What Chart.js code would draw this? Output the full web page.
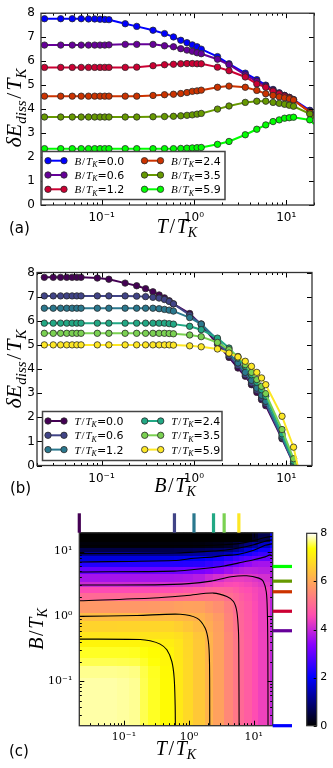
<!DOCTYPE html>
<html>
<head>
<meta charset="utf-8">
<script src="https://cdn.jsdelivr.net/npm/chart.js@4.4.1/dist/chart.umd.min.js"></script>
<style>
  html, body { margin: 0; padding: 0; background: #fff; }
  #page { position: relative; width: 333px; height: 768px; overflow: hidden; }
  canvas { position: absolute; left: 0; }
</style>
</head>
<body>
<div id="page">
  <canvas id="chartA" width="333" height="255" style="top:0px"></canvas>
  <canvas id="chartB" width="333" height="253" style="top:255px"></canvas>
  <canvas id="chartC" width="333" height="268" style="top:500px"></canvas>
  <canvas id="chartBar" width="333" height="268" style="top:500px"></canvas>
</div>
<script>
// ---- panel (a): dE/T_K against T/T_K, one curve per field B/T_K
const tGrid = [0.024, 0.036, 0.048, 0.06, 0.072, 0.084, 0.096, 0.108, 0.12, 0.18, 0.24, 0.36, 0.48, 0.6, 0.72, 0.84, 0.96, 1.08, 1.2, 1.8, 2.4, 3.6, 4.8, 6.0, 7.2, 8.4, 9.6, 10.8, 12, 18, 20];
const fieldLevels = [0.0, 0.6, 1.2, 2.4, 3.5, 5.9];
const eField00 = [7.77, 7.77, 7.77, 7.77, 7.76, 7.76, 7.75, 7.74, 7.73, 7.56, 7.45, 7.29, 7.15, 7.01, 6.87, 6.77, 6.68, 6.6, 6.5, 6.19, 5.89, 5.5, 5.23, 5.0, 4.82, 4.68, 4.57, 4.49, 4.4, 3.95, 3.83];
const eField06 = [6.67, 6.67, 6.67, 6.67, 6.67, 6.67, 6.67, 6.67, 6.68, 6.7, 6.7, 6.7, 6.64, 6.6, 6.52, 6.46, 6.41, 6.35, 6.31, 6.08, 5.85, 5.43, 5.16, 4.96, 4.79, 4.65, 4.57, 4.49, 4.38, 3.89, 3.78];
const eField12 = [5.74, 5.74, 5.74, 5.74, 5.74, 5.74, 5.74, 5.74, 5.74, 5.74, 5.75, 5.81, 5.85, 5.87, 5.89, 5.9, 5.9, 5.89, 5.89, 5.75, 5.6, 5.34, 5.05, 4.91, 4.75, 4.64, 4.54, 4.47, 4.38, 3.89, 3.74];
const eField24 = [4.54, 4.54, 4.54, 4.54, 4.54, 4.54, 4.54, 4.54, 4.54, 4.54, 4.54, 4.57, 4.6, 4.62, 4.65, 4.69, 4.74, 4.76, 4.79, 4.91, 4.96, 4.91, 4.78, 4.64, 4.57, 4.51, 4.47, 4.43, 4.38, 3.87, 3.7];
const eField35 = [3.67, 3.67, 3.67, 3.67, 3.67, 3.67, 3.67, 3.67, 3.67, 3.67, 3.67, 3.68, 3.69, 3.7, 3.72, 3.74, 3.76, 3.79, 3.82, 4.0, 4.13, 4.28, 4.33, 4.33, 4.28, 4.24, 4.2, 4.16, 4.12, 3.8, 3.62];
const eField59 = [2.35, 2.35, 2.35, 2.35, 2.35, 2.35, 2.35, 2.35, 2.35, 2.35, 2.35, 2.35, 2.35, 2.35, 2.36, 2.37, 2.38, 2.39, 2.4, 2.53, 2.65, 2.93, 3.16, 3.34, 3.48, 3.55, 3.62, 3.64, 3.66, 3.55, 3.38];

// ---- panel (b): dE/T_K against B/T_K, one curve per temperature T/T_K
const bGrid = [0.024, 0.03, 0.036, 0.042, 0.048, 0.054, 0.06, 0.09, 0.12, 0.18, 0.24, 0.3, 0.36, 0.42, 0.48, 0.54, 0.6, 0.9, 1.2, 1.8, 2.4, 3.0, 3.6, 4.2, 4.8, 5.4, 6.0, 9.0, 12.0, 18.0];
const tempLevels = [0.0, 0.6, 1.2, 2.4, 3.5, 5.9];
const eTemp00 = [7.8, 7.8, 7.8, 7.8, 7.8, 7.8, 7.8, 7.77, 7.72, 7.56, 7.45, 7.33, 7.2, 7.07, 6.95, 6.83, 6.7, 6.3, 5.83, 5.03, 4.48, 4.04, 3.7, 3.35, 3.03, 2.73, 2.48, 1.11, 0.07, -2.4];
const eTemp06 = [7.03, 7.03, 7.03, 7.03, 7.03, 7.03, 7.03, 7.03, 7.03, 7.03, 7.02, 7.0, 6.97, 6.94, 6.88, 6.8, 6.7, 6.24, 5.87, 5.14, 4.55, 4.14, 3.76, 3.42, 3.12, 2.8, 2.57, 1.15, 0.09, -2.4];
const eTemp12 = [6.52, 6.52, 6.52, 6.52, 6.52, 6.52, 6.52, 6.52, 6.52, 6.52, 6.52, 6.52, 6.52, 6.5, 6.47, 6.44, 6.4, 6.13, 5.86, 5.21, 4.66, 4.25, 3.86, 3.53, 3.21, 2.91, 2.66, 1.22, 0.1, -2.3];
const eTemp24 = [5.9, 5.9, 5.9, 5.9, 5.9, 5.9, 5.9, 5.9, 5.9, 5.9, 5.9, 5.9, 5.9, 5.9, 5.9, 5.88, 5.86, 5.77, 5.63, 5.28, 4.87, 4.45, 4.11, 3.76, 3.45, 3.14, 2.87, 1.31, 0.18, -2.2];
const eTemp35 = [5.48, 5.48, 5.48, 5.48, 5.48, 5.48, 5.48, 5.48, 5.48, 5.48, 5.48, 5.48, 5.48, 5.48, 5.48, 5.47, 5.46, 5.41, 5.34, 5.1, 4.8, 4.52, 4.18, 3.86, 3.56, 3.28, 2.98, 1.49, 0.28, -2.1];
const eTemp59 = [5.0, 5.0, 5.0, 5.0, 5.0, 5.0, 5.0, 5.0, 5.0, 5.0, 5.0, 5.0, 5.0, 5.0, 5.0, 5.0, 4.99, 4.96, 4.92, 4.83, 4.66, 4.5, 4.32, 4.11, 3.86, 3.63, 3.35, 2.04, 0.76, -2.3];

// ---- panel (c): map of dE/T_K over (T, B); cell corners (lower-left) and values
const mapT = [0.0205, 0.04, 0.08, 0.12, 0.18, 0.24, 0.36, 0.6, 0.84, 1.2, 1.8, 2.4, 3.6, 4.8, 6.0, 7.2, 9.6, 12, 18];
const mapB = [0.0205, 0.06, 0.12, 0.18, 0.24, 0.36, 0.48, 0.6, 0.9, 1.2, 1.8, 2.4, 3.0, 3.6, 4.8, 6.0, 7.5, 9.0, 10.5, 12, 15];
const mapRows = [
  [7.78, 7.78, 7.76, 7.73, 7.56, 7.45, 7.29, 7.01, 6.77, 6.5, 6.19, 5.89, 5.5, 5.23, 5.0, 4.82, 4.57, 4.4, 3.95],
  [7.78, 7.78, 7.76, 7.73, 7.56, 7.45, 7.29, 7.01, 6.77, 6.5, 6.19, 5.89, 5.5, 5.23, 5.0, 4.82, 4.57, 4.4, 3.95],
  [7.72, 7.72, 7.71, 7.69, 7.54, 7.44, 7.28, 7.01, 6.77, 6.5, 6.19, 5.89, 5.5, 5.23, 5.0, 4.82, 4.57, 4.4, 3.95],
  [7.56, 7.56, 7.55, 7.54, 7.46, 7.38, 7.24, 7.0, 6.76, 6.5, 6.19, 5.89, 5.5, 5.23, 5.0, 4.82, 4.57, 4.4, 3.95],
  [7.45, 7.45, 7.45, 7.44, 7.39, 7.33, 7.2, 6.99, 6.75, 6.5, 6.19, 5.89, 5.5, 5.23, 5.0, 4.82, 4.57, 4.4, 3.95],
  [7.2, 7.2, 7.2, 7.2, 7.18, 7.15, 7.1, 6.96, 6.74, 6.49, 6.18, 5.89, 5.5, 5.22, 5.0, 4.82, 4.57, 4.4, 3.94],
  [6.95, 6.95, 6.95, 6.95, 6.95, 6.94, 6.93, 6.86, 6.7, 6.46, 6.16, 5.88, 5.49, 5.2, 4.99, 4.81, 4.57, 4.39, 3.92],
  [6.67, 6.67, 6.68, 6.69, 6.7, 6.7, 6.7, 6.6, 6.46, 6.31, 6.08, 5.85, 5.43, 5.16, 4.96, 4.79, 4.57, 4.38, 3.89],
  [6.3, 6.3, 6.3, 6.3, 6.3, 6.3, 6.29, 6.24, 6.2, 6.13, 5.98, 5.77, 5.41, 5.12, 4.94, 4.77, 4.55, 4.38, 3.89],
  [5.74, 5.74, 5.74, 5.74, 5.75, 5.76, 5.81, 5.87, 5.9, 5.89, 5.75, 5.6, 5.34, 5.05, 4.91, 4.75, 4.54, 4.38, 3.89],
  [5.03, 5.03, 5.04, 5.05, 5.06, 5.08, 5.1, 5.14, 5.18, 5.21, 5.26, 5.28, 5.1, 4.98, 4.82, 4.68, 4.5, 4.37, 3.88],
  [4.54, 4.54, 4.54, 4.54, 4.54, 4.54, 4.57, 4.62, 4.69, 4.79, 4.91, 4.96, 4.91, 4.78, 4.64, 4.57, 4.47, 4.38, 3.87],
  [4.04, 4.04, 4.04, 4.05, 4.06, 4.07, 4.1, 4.14, 4.19, 4.25, 4.36, 4.45, 4.52, 4.55, 4.5, 4.44, 4.35, 4.25, 3.84],
  [3.67, 3.67, 3.67, 3.67, 3.67, 3.67, 3.68, 3.7, 3.74, 3.82, 4.0, 4.13, 4.28, 4.33, 4.33, 4.28, 4.2, 4.12, 3.8],
  [3.03, 3.03, 3.03, 3.04, 3.05, 3.06, 3.09, 3.12, 3.16, 3.21, 3.33, 3.45, 3.6, 3.75, 3.86, 3.92, 3.9, 3.85, 3.7],
  [2.35, 2.35, 2.35, 2.35, 2.35, 2.35, 2.35, 2.35, 2.37, 2.4, 2.53, 2.65, 2.93, 3.16, 3.34, 3.48, 3.62, 3.66, 3.55],
  [1.75, 1.75, 1.75, 1.76, 1.77, 1.78, 1.8, 1.85, 1.9, 1.97, 2.1, 2.2, 2.4, 2.6, 2.75, 2.88, 3.0, 3.05, 3.2],
  [1.11, 1.11, 1.11, 1.11, 1.12, 1.12, 1.13, 1.15, 1.18, 1.22, 1.27, 1.31, 1.49, 1.8, 2.04, 2.25, 2.45, 2.6, 2.9],
  [0.55, 0.55, 0.55, 0.55, 0.56, 0.56, 0.57, 0.6, 0.63, 0.66, 0.72, 0.78, 0.9, 1.1, 1.35, 1.7, 2.0, 2.2, 2.6],
  [0.07, 0.07, 0.07, 0.07, 0.07, 0.08, 0.08, 0.09, 0.09, 0.1, 0.14, 0.18, 0.28, 0.5, 0.76, 1.0, 1.25, 1.55, 2.1],
  [-0.6, -0.6, -0.6, -0.6, -0.6, -0.6, -0.6, -0.6, -0.6, -0.6, -0.6, -0.55, -0.45, -0.3, -0.2, 0.0, 0.3, 0.6, 1.8],
];
// contour lines, [T, B] pairs
const contour7 = [[0.0205, 0.446], [0.178, 0.44], [0.253, 0.42], [0.361, 0.373], [0.458, 0.305], [0.547, 0.201], [0.594, 0.112], [0.615, 0.043], [0.62, 0.0205]];
const contour6 = [[0.0205, 1.0], [0.158, 1.03], [0.735, 1.08], [1.33, 0.94], [1.78, 0.66], [2.0, 0.41], [2.08, 0.2], [2.1, 0.0205]];
const contour5 = [[0.0205, 1.74], [0.285, 1.92], [0.93, 2.1], [2.39, 2.29], [3.85, 2.03], [4.87, 1.7], [5.49, 1.19], [5.82, 0.585], [5.89, 0.255], [5.95, 0.0205]];
const contour4 = [[0.0205, 3.05], [0.3, 3.07], [1.0, 3.2], [2.2, 3.5], [4.5, 4.1], [7.8, 4.24], [12, 3.9], [14, 3.5], [15.6, 2.4], [16.2, 1.2], [16.5, 0.3], [16.6, 0.0205]];
const contour3 = [[0.0205, 4.85], [0.6, 5.0], [1.2, 5.3], [2.4, 5.7], [3.5, 6.0], [5.9, 6.7], [10, 7.5], [15, 8.3], [18, 8.9], [19.6, 8.4]];
const contour2 = [[0.0205, 6.9], [0.6, 7.3], [1.2, 7.9], [2.4, 8.3], [3.5, 8.7], [5.9, 9.1], [10, 10.5], [15, 12.5], [19.6, 13.3]];
const contour1 = [[0.0205, 9.3], [0.6, 9.5], [1.2, 9.8], [2.4, 10.2], [3.5, 10.5], [5.9, 11.4], [10, 12.8], [15, 14.5], [19.6, 15.3]];
const contour0 = [[0.0205, 12.3], [1.0, 12.35], [3.5, 12.8], [5.9, 13.3], [10, 14.8], [15, 16.5], [19.6, 17.3]];
const barTicks = [0, 2, 4, 6, 8];

const fieldColors = ['#0000ff', '#660099', '#cc0033', '#cc3300', '#669900', '#00ff00'];
const tempColors = ['#440154', '#414487', '#2a788e', '#22a884', '#7ad151', '#fde725'];

Chart.defaults.font.family = '"DejaVu Sans"';
Chart.defaults.color = '#000';

// matplotlib gnuplot2 colormap
function gnuplot2(t) {
  t = Math.min(1, Math.max(0, t));
  const cl = v => Math.round(255 * Math.min(1, Math.max(0, v)));
  let b;
  if (t < 0.25) b = 4 * t;
  else if (t < 0.42) b = 1;
  else if (t < 0.92) b = -2 * t + 1.84;
  else b = t / 0.08 - 11.5;
  return `rgb(${cl(t / 0.32 - 0.78125)},${cl(2 * t - 0.84)},${cl(b)})`;
}

function pow10(v) {
  const sup = { '-': '\u207B', '0': '\u2070', '1': '\u00B9', '2': '\u00B2', '3': '\u00B3' };
  const e = String(Math.round(Math.log10(v)));
  return '10' + e.split('').map(c => sup[c]).join('');
}

function fontFor(kind, size) {
  if (kind === 's') return size + 'px "DejaVu Sans"';
  if (kind === 'u') return size + 'px "Liberation Serif"';
  if (kind === 'b') return 'italic ' + Math.round(size * 0.7) + 'px "Liberation Serif"';
  return 'italic ' + size + 'px "Liberation Serif"';
}

// text made of pieces: i italic, u upright (slash, padded), s sans, b subscript
function drawMath(ctx, parts, x, y, size, rot, alignLeft) {
  ctx.save();
  ctx.translate(x, y);
  if (rot) ctx.rotate(-Math.PI / 2);
  ctx.fillStyle = '#000';
  ctx.textBaseline = 'alphabetic';
  ctx.textAlign = 'left';
  const gap = k => (k === 'u' ? size * 0.08 : 0);
  const widths = parts.map(([t, k]) => { ctx.font = fontFor(k, size); return ctx.measureText(t).width + 2 * gap(k); });
  const total = widths.reduce((s, w) => s + w, 0);
  let cx = alignLeft ? 0 : -total / 2;
  parts.forEach(([t, k], i) => {
    ctx.font = fontFor(k, size);
    ctx.fillText(t, cx + gap(k), k === 'b' ? size * 0.22 : 0);
    cx += widths[i];
  });
  ctx.restore();
}

const yTitle = [['\u03B4', 'i'], ['E', 'i'], ['diss', 'b'], ['/', 'u'], ['T', 'i'], ['K', 'b']];
const tTitle = [['T', 'i'], ['/', 'u'], ['T', 'i'], ['K', 'b']];
const bTitle = [['B', 'i'], ['/', 'u'], ['T', 'i'], ['K', 'b']];

function textLayer(items) {
  return {
    id: 'textLayer',
    afterDraw(chart) {
      items.forEach(it => drawMath(chart.ctx, it.parts, it.x, it.y, it.size, it.rot, it.left));
    }
  };
}

function tickMarks(s) {
  const out = [];
  if (s.type === 'logarithmic') {
    for (let e = Math.floor(Math.log10(s.min)); e <= Math.ceil(Math.log10(s.max)); e++) {
      for (let m = 1; m < 10; m++) {
        const v = m * Math.pow(10, e);
        if (v >= s.min && v <= s.max) out.push({ v: v, len: m === 1 ? 5 : 2.5 });
      }
    }
  } else {
    for (let v = s.min; v <= s.max; v += 1) out.push({ v: v, len: 5 });
  }
  return out;
}

const frame = {
  id: 'frame',
  afterDatasetsDraw(chart) {
    const { ctx, chartArea: a } = chart;
    ctx.save();
    ctx.strokeStyle = '#000';
    ctx.lineWidth = 1;
    ctx.beginPath();
    for (const id of ['x', 'y']) {
      const s = chart.scales[id];
      for (const t of tickMarks(s)) {
        const p = Math.round(s.getPixelForValue(t.v)) + 0.5;
        if (id === 'x') {
          ctx.moveTo(p, a.bottom); ctx.lineTo(p, a.bottom - t.len);
          ctx.moveTo(p, a.top); ctx.lineTo(p, a.top + t.len);
        } else {
          ctx.moveTo(a.left, p); ctx.lineTo(a.left + t.len, p);
          ctx.moveTo(a.right, p); ctx.lineTo(a.right - t.len, p);
        }
      }
    }
    ctx.stroke();
    ctx.strokeStyle = '#333';
    ctx.lineWidth = 1.3;
    ctx.strokeRect(a.left, a.top, a.right - a.left, a.bottom - a.top);
    ctx.restore();
  }
};

function legendLayer(cfg) {
  return {
    id: 'legendLayer',
    afterDraw(chart) {
      const { ctx, chartArea: a } = chart;
      const left = a.left + cfg.dx, top = a.bottom - cfg.dy - cfg.h;
      ctx.save();
      ctx.fillStyle = '#fff';
      ctx.fillRect(left, top, cfg.w, cfg.h);
      ctx.strokeStyle = '#444';
      ctx.lineWidth = 1.5;
      ctx.strokeRect(left, top, cfg.w, cfg.h);
      cfg.levels.forEach((lv, i) => {
        const col = Math.floor(i / 3), row = i % 3;
        const y = top + cfg.row0 + row * cfg.gap;
        const x0 = left + cfg.lineX[col], x1 = x0 + 16;
        ctx.strokeStyle = cfg.colors[i];
        ctx.lineWidth = 2;
        ctx.beginPath(); ctx.moveTo(x0, y); ctx.lineTo(x1, y); ctx.stroke();
        for (const px of [x0, x1]) {
          ctx.beginPath(); ctx.arc(px, y, 3.2, 0, Math.PI * 2);
          ctx.fillStyle = cfg.colors[i]; ctx.fill();
          ctx.strokeStyle = '#2a2a2a'; ctx.lineWidth = 0.8; ctx.stroke();
        }
        drawMath(ctx, [[cfg.sym, 'i'], ['/', 'u'], ['T', 'i'], ['K', 'b'], ['=' + lv.toFixed(1), 's']], x0 + 26.5, y + 4, 11, false, true);
      });
      ctx.restore();
    }
  };
}

function makeSets(xs, series, colors, hideFrom) {
  return series.map((ys, i) => ({
    data: xs.map((x, k) => ({ x: x, y: ys[k] })),
    borderColor: colors[i],
    backgroundColor: colors[i],
    pointBackgroundColor: colors[i],
    pointBorderColor: '#2a2a2a',
    pointBorderWidth: 0.8,
    pointRadius: xs.map((x, k) => (k >= hideFrom ? 0 : 3.2)),
    pointHoverRadius: 0,
    borderWidth: 2,
    tension: 0,
    order: series.length - i,
    clip: 0,
  }));
}

const noGrid = { display: false, drawTicks: false };

function lineOptions(xmin, xmax, pad, yWidth, yPad, xHeight) {
  return {
    responsive: false,
    animation: false,
    devicePixelRatio: 1,
    layout: { padding: pad },
    plugins: { legend: { display: false }, tooltip: { enabled: false } },
    scales: {
      x: {
        type: 'logarithmic', min: xmin, max: xmax,
        afterBuildTicks: s => { s.ticks = [0.1, 1, 10].map(v => ({ value: v })); },
        ticks: { callback: v => pow10(v), font: { size: 12 }, padding: 6, maxRotation: 0, autoSkip: false },
        grid: noGrid, border: { display: false },
        afterFit: s => { s.height = xHeight; }
      },
      y: {
        min: 0, max: 8,
        ticks: { stepSize: 1, font: { size: 12 }, padding: yPad, autoSkip: false },
        grid: noGrid, border: { display: false },
        afterFit: s => { s.width = yWidth; }
      }
    }
  };
}

// panel (a)
new Chart(document.getElementById('chartA'), {
  type: 'line',
  data: { datasets: makeSets(tGrid, [eField00, eField06, eField12, eField24, eField35, eField59], fieldColors, 30) },
  options: lineOptions(0.022, 20, { left: 0, right: 19, top: 11, bottom: 0 }, 41, 6, 50),
  plugins: [frame,
    legendLayer({ dx: 1, dy: 5.5, w: 183, h: 48, row0: 9.2, gap: 14.3, lineX: [6, 102.5], levels: fieldLevels, colors: fieldColors, sym: 'B' }),
    textLayer([
      { parts: yTitle, x: 21, y: 108, size: 22, rot: true },
      { parts: tTitle, x: 177, y: 233, size: 20 },
      { parts: [['(a)', 's']], x: 9, y: 233, size: 15, left: true },
    ])]
});

// panel (b)
new Chart(document.getElementById('chartB'), {
  type: 'line',
  data: { datasets: makeSets(bGrid, [eTemp00, eTemp06, eTemp12, eTemp24, eTemp35, eTemp59], tempColors, 29) },
  options: lineOptions(0.02, 19, { left: 0, right: 21, top: 17.5, bottom: 0 }, 37, 2, 42.5),
  plugins: [frame,
    legendLayer({ dx: 5.5, dy: 5, w: 179.5, h: 49, row0: 9.5, gap: 14.3, lineX: [5.5, 102.2], levels: tempLevels, colors: tempColors, sym: 'T' }),
    textLayer([
      { parts: yTitle, x: 21, y: 114, size: 22, rot: true },
      { parts: bTitle, x: 175, y: 237, size: 20 },
      { parts: [['(b)', 's']], x: 10, y: 237.5, size: 15, left: true },
    ])]
});

// panel (c)
const heat = {
  id: 'heat',
  beforeDatasetsDraw(chart) {
    const { ctx, chartArea: a, scales: { x, y } } = chart;
    ctx.save();
    ctx.beginPath(); ctx.rect(a.left, a.top, a.right - a.left, a.bottom - a.top); ctx.clip();
    mapRows.forEach((row, j) => {
      const y0 = y.getPixelForValue(mapB[j]);
      const y1 = y.getPixelForValue(j + 1 < mapB.length ? mapB[j + 1] : y.max);
      row.forEach((v, i) => {
        const x0 = x.getPixelForValue(mapT[i]);
        const x1 = x.getPixelForValue(i + 1 < mapT.length ? mapT[i + 1] : x.max);
        ctx.fillStyle = gnuplot2(v / 8);
        ctx.fillRect(Math.floor(x0), Math.floor(y1), Math.ceil(x1) - Math.floor(x0) + 1, Math.ceil(y0) - Math.floor(y1) + 1);
      });
    });
    ctx.restore();
  }
};

const cuts = {
  id: 'cuts',
  afterDraw(chart) {
    const { ctx, chartArea: a, scales: { x, y } } = chart;
    ctx.save();
    tempLevels.forEach((t, i) => {
      const px = x.getPixelForValue(Math.max(t, x.min));
      ctx.fillStyle = tempColors[i];
      ctx.fillRect(px - 1.6, a.top - 19.4, 3.2, 19.4);
    });
    fieldLevels.forEach((b, i) => {
      const py = y.getPixelForValue(Math.max(b, y.min));
      ctx.fillStyle = fieldColors[i];
      ctx.fillRect(a.right, py - 1.6, 19.3, 3.2);
    });
    ctx.restore();
  }
};

const contourSets = [contour0, contour1, contour2, contour3, contour4, contour5, contour6, contour7].map(c => ({
  data: c.map(p => ({ x: p[0], y: p[1] })),
  showLine: true, borderColor: '#000', borderWidth: 1.1, pointRadius: 0, tension: 0.3, clip: 0,
}));

const serifTicks = pad => ({ callback: v => pow10(v), font: { family: '"DejaVu Serif"', size: 11 }, padding: pad, maxRotation: 0, autoSkip: false });

new Chart(document.getElementById('chartC'), {
  type: 'scatter',
  data: { datasets: contourSets },
  options: {
    responsive: false, animation: false, devicePixelRatio: 1,
    layout: { padding: { left: 0, right: 60.3, top: 32.7, bottom: 0 } },
    plugins: { legend: { display: false }, tooltip: { enabled: false } },
    scales: {
      x: {
        type: 'logarithmic', min: 0.0205, max: 19.6,
        afterBuildTicks: s => { s.ticks = [0.1, 1, 10].map(v => ({ value: v })); },
        ticks: serifTicks(5), grid: noGrid, border: { display: false },
        afterFit: s => { s.height = 42.3; }
      },
      y: {
        type: 'logarithmic', min: 0.0205, max: 19.6,
        afterBuildTicks: s => { s.ticks = [0.1, 1, 10].map(v => ({ value: v })); },
        ticks: serifTicks(7), grid: noGrid, border: { display: false },
        afterFit: s => { s.width = 79.3; }
      }
    }
  },
  plugins: [heat, frame, cuts,
    textLayer([
      { parts: bTitle, x: 43, y: 129, size: 20, rot: true },
      { parts: tTitle, x: 176, y: 255, size: 20 },
      { parts: [['(c)', 's']], x: 9, y: 256, size: 15, left: true },
    ])]
});

// colour bar for panel (c); labels placed through its own linear scale
const colorbar = {
  id: 'colorbar',
  afterDraw(chart) {
    const { ctx, chartArea: a, scales: { y } } = chart;
    ctx.save();
    const g = ctx.createLinearGradient(0, a.bottom, 0, a.top);
    for (let k = 0; k <= 64; k++) g.addColorStop(k / 64, gnuplot2(k / 64));
    ctx.fillStyle = g;
    ctx.fillRect(a.left, a.top, a.right - a.left, a.bottom - a.top);
    ctx.strokeStyle = '#000';
    ctx.lineWidth = 1;
    ctx.beginPath();
    barTicks.forEach(v => {
      const p = Math.round(y.getPixelForValue(v)) + 0.5;
      ctx.moveTo(a.right, p); ctx.lineTo(a.right - 3, p);
    });
    ctx.stroke();
    ctx.strokeStyle = '#333';
    ctx.lineWidth = 1.2;
    ctx.strokeRect(a.left, a.top, a.right - a.left, a.bottom - a.top);
    ctx.fillStyle = '#000';
    ctx.font = '11px "DejaVu Sans"';
    ctx.textAlign = 'left';
    ctx.textBaseline = 'middle';
    barTicks.forEach(v => ctx.fillText(String(v), a.right + 3.5, y.getPixelForValue(v)));
    ctx.restore();
  }
};

new Chart(document.getElementById('chartBar'), {
  type: 'line',
  data: { datasets: [] },
  options: {
    responsive: false, animation: false, devicePixelRatio: 1,
    layout: { padding: { left: 306.7, right: 0, top: 33.3, bottom: 42.3 } },
    plugins: { legend: { display: false }, tooltip: { enabled: false } },
    scales: {
      x: { type: 'linear', display: false },
      y: {
        position: 'right', min: 0, max: 8,
        ticks: { display: false, stepSize: 2 },
        grid: noGrid, border: { display: false },
        afterFit: s => { s.width = 16.3; }
      }
    }
  },
  plugins: [colorbar]
});
</script>
</body>
</html>
